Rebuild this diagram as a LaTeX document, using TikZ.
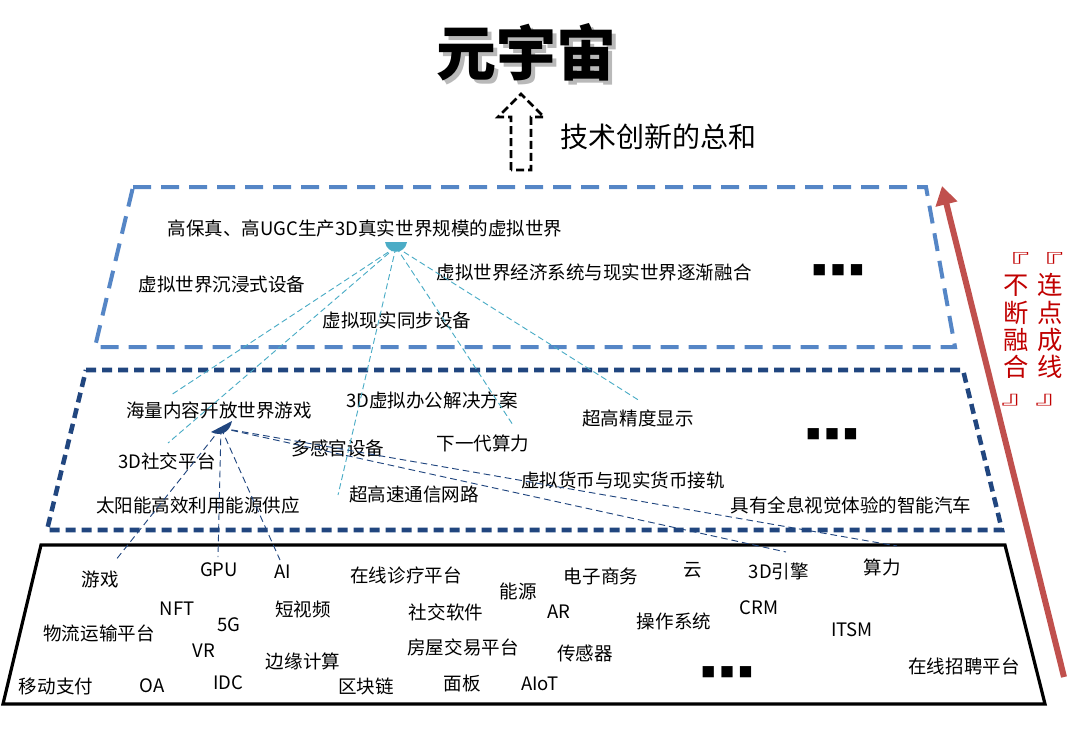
\documentclass[tikz,border=0pt]{standalone}
\usepackage{fontspec}
\setmainfont{Noto Sans CJK SC}
\usepackage{xcolor}
\usetikzlibrary{
    arrows.meta,
    calc,
    positioning
}
\definecolor{toplayer}{HTML}{5586C6}
\definecolor{midlayer}{HTML}{21467F}
\definecolor{toplink}{HTML}{4BACC6}
\definecolor{arrowred}{HTML}{C0504D}
\definecolor{textred}{HTML}{C00000}
\newcommand{\openbr}{\makebox[0pt][c]{\hspace{-9pt}\scalebox{1.6}[0.7]{『}}}
\newcommand{\closebr}{\makebox[0pt][c]{\hspace{9pt}\scalebox{1.6}[0.7]{』}}}
\tikzset{
    lbl/.style={inner sep=0pt, font=\fontsize{13.9}{16}\selectfont},
    moredots/.style={inner sep=0pt, font=\fontsize{10.5}{12}\selectfont},
    redcol/.style={inner sep=0pt, align=center, text=textred, font=\fontsize{19}{20.5}\selectfont},
    toplinkline/.style={draw=toplink, line width=0.7pt, dash pattern=on 4.5pt off 2.5pt},
    midlinkline/.style={draw=midlayer, line width=0.7pt, dash pattern=on 5pt off 3pt}
}

\begin{document}
\begin{tikzpicture}[x=0.75pt, y=-0.75pt]
                                \useasboundingbox (0, 0) rectangle (1080, 744);

                                \coordinate (titlepos) at (526, 52);
                                \node[inner sep=0pt, text=gray!55, font=\fontsize{45}{50}\selectfont\bfseries] (titleshadow) at ($(titlepos)+(4, 4)$) {元宇宙};
                                \node[inner sep=0pt, font=\fontsize{45}{50}\selectfont\bfseries] (title) at (titlepos) {元宇宙};

                                \coordinate (arrowbase) at (521, 170);
                                \draw[line width=2pt, dash pattern=on 6pt off 3pt, shift={(arrowbase)}]
                                    (-10, 0) -- (-10, -53) -- (-23, -53) -- (0, -76) -- (23, -53) -- (10, -53) -- (10, 0) -- cycle;
                                \node[inner sep=0pt, font=\fontsize{21}{24}\selectfont] (sumtext) at (658, 137) {技术创新的总和};

                                \begin{scope}[line width=3pt, dash pattern=on 13.5pt off 7.5pt]
                                    \draw[toplayer] (133, 187) -- (926, 187) -- (955, 347) -- (95, 347) -- cycle;
                                \end{scope}
                                \begin{scope}[line width=3.4pt, dash pattern=on 7.5pt off 4.5pt]
                                    \draw[midlayer] (86, 370) -- (963, 370) -- (1002, 530) -- (47, 530) -- cycle;
                                \end{scope}
                                \draw[line width=2.4pt] (41, 545) -- (1005, 545) -- (1045, 704) -- (3, 704) -- cycle;

                                \draw[arrowred, line width=4.5pt, -{Triangle[length=14pt, width=16pt]}] (1064, 677) -- (942, 186);
                                \node[redcol] (joinline) at (1050, 329) {\openbr\\连\\点\\成\\线\\\closebr};
                                \node[redcol] (keepmerge) at (1016, 329) {\openbr\\不\\断\\融\\合\\\closebr};

                                \node[lbl] (hifi) at (365, 228) {高保真、高UGC生产3D真实世界规模的虚拟世界};
                                \node[lbl] (immersive) at (222, 284) {虚拟世界沉浸式设备};
                                \node[lbl] (economy) at (594, 272) {虚拟世界经济系统与现实世界逐渐融合};
                                \node[moredots] (topmore) at (838, 270) {■\hspace{3.5pt}■\hspace{3.5pt}■};
                                \node[lbl] (syncdev) at (397, 320) {虚拟现实同步设备};

                                \node[lbl] (openworld) at (219, 410) {海量内容开放世界游戏};
                                \node[lbl] (office) at (432, 400) {3D虚拟办公解决方案};
                                \node[lbl] (display) at (638, 418) {超高精度显示};
                                \node[lbl] (senses) at (338, 448) {多感官设备};
                                \node[lbl] (nextpower) at (483, 443) {下一代算力};
                                \node[moredots] (midmore) at (832, 434) {■\hspace{3.5pt}■\hspace{3.5pt}■};
                                \node[lbl] (social) at (167, 461) {3D社交平台};
                                \node[lbl] (currency) at (623, 480) {虚拟货币与现实货币接轨};
                                \node[lbl] (network) at (414, 494) {超高速通信网路};
                                \node[lbl] (solar) at (198, 505) {太阳能高效利用能源供应};
                                \node[lbl] (smartcar) at (851, 505) {具有全息视觉体验的智能汽车};

                                \node[lbl] (game) at (100, 579) {游戏};
                                \node[lbl] (gpu) at (219, 570) {GPU};
                                \node[lbl] (ai) at (283, 572) {AI};
                                \node[lbl] (clinic) at (406, 575) {在线诊疗平台};
                                \node[lbl] (energy) at (518, 591) {能源};
                                \node[lbl] (ecommerce) at (601, 576) {电子商务};
                                \node[lbl] (cloud) at (693, 570) {云};
                                \node[lbl] (engine) at (779, 571) {3D引擎};
                                \node[lbl] (power) at (882, 567) {算力};
                                \node[lbl] (nft) at (177, 609) {NFT};
                                \node[lbl] (fiveg) at (229, 625) {5G};
                                \node[lbl] (shortvideo) at (303, 609) {短视频};
                                \node[lbl] (socialsw) at (446, 612) {社交软件};
                                \node[lbl] (ar) at (559, 612) {AR};
                                \node[lbl] (os) at (674, 621) {操作系统};
                                \node[lbl] (crm) at (759, 608) {CRM};
                                \node[lbl] (itsm) at (852, 630) {ITSM};
                                \node[lbl] (logistics) at (99, 633) {物流运输平台};
                                \node[lbl] (vr) at (204, 651) {VR};
                                \node[lbl] (edge) at (303, 661) {边缘计算};
                                \node[lbl] (housing) at (463, 647) {房屋交易平台};
                                \node[lbl] (sensor) at (585, 653) {传感器};
                                \node[lbl] (hiring) at (964, 666) {在线招聘平台};
                                \node[lbl] (payment) at (56, 686) {移动支付};
                                \node[lbl] (oa) at (152, 686) {OA};
                                \node[lbl] (idc) at (228, 683) {IDC};
                                \node[lbl] (chain) at (366, 686) {区块链};
                                \node[lbl] (panel) at (462, 683) {面板};
                                \node[lbl] (aiot) at (540, 684) {AIoT};
                                \node[moredots] (botmore) at (727, 672) {■\hspace{3.5pt}■\hspace{3.5pt}■};

                                \coordinate (tophub) at (396, 247);
                                \coordinate (topend1) at (171, 395);
                                \coordinate (topend2) at (168, 443);
                                \coordinate (topend3) at (338, 495);
                                \coordinate (topend4) at (513, 425);
                                \coordinate (topend5) at (640, 401);
                                \foreach \e in {topend1, topend2, topend3, topend4, topend5}
                                    \draw[toplinkline] (tophub) -- (\e);
                                \fill[toplink, shift={(tophub)}] (-11, -5) -- (11, -5) .. controls (9, 8) and (-9, 8) .. cycle;

                                \coordinate (midhub) at (221, 428);
                                \coordinate (midend1) at (115, 561);
                                \coordinate (midend2) at (218, 557);
                                \coordinate (midend3) at (280, 560);
                                \coordinate (midend4) at (786, 552);
                                \coordinate (midend5) at (897, 546);
                                \foreach \e in {midend1, midend2, midend3, midend4, midend5}
                                    \draw[midlinkline] (midhub) -- (\e);
                                \fill[midlayer, shift={(midhub)}] (-10, 4) -- (11, -7) .. controls (9, 4) and (0, 9) .. cycle;
                            \end{tikzpicture}
\end{document}
